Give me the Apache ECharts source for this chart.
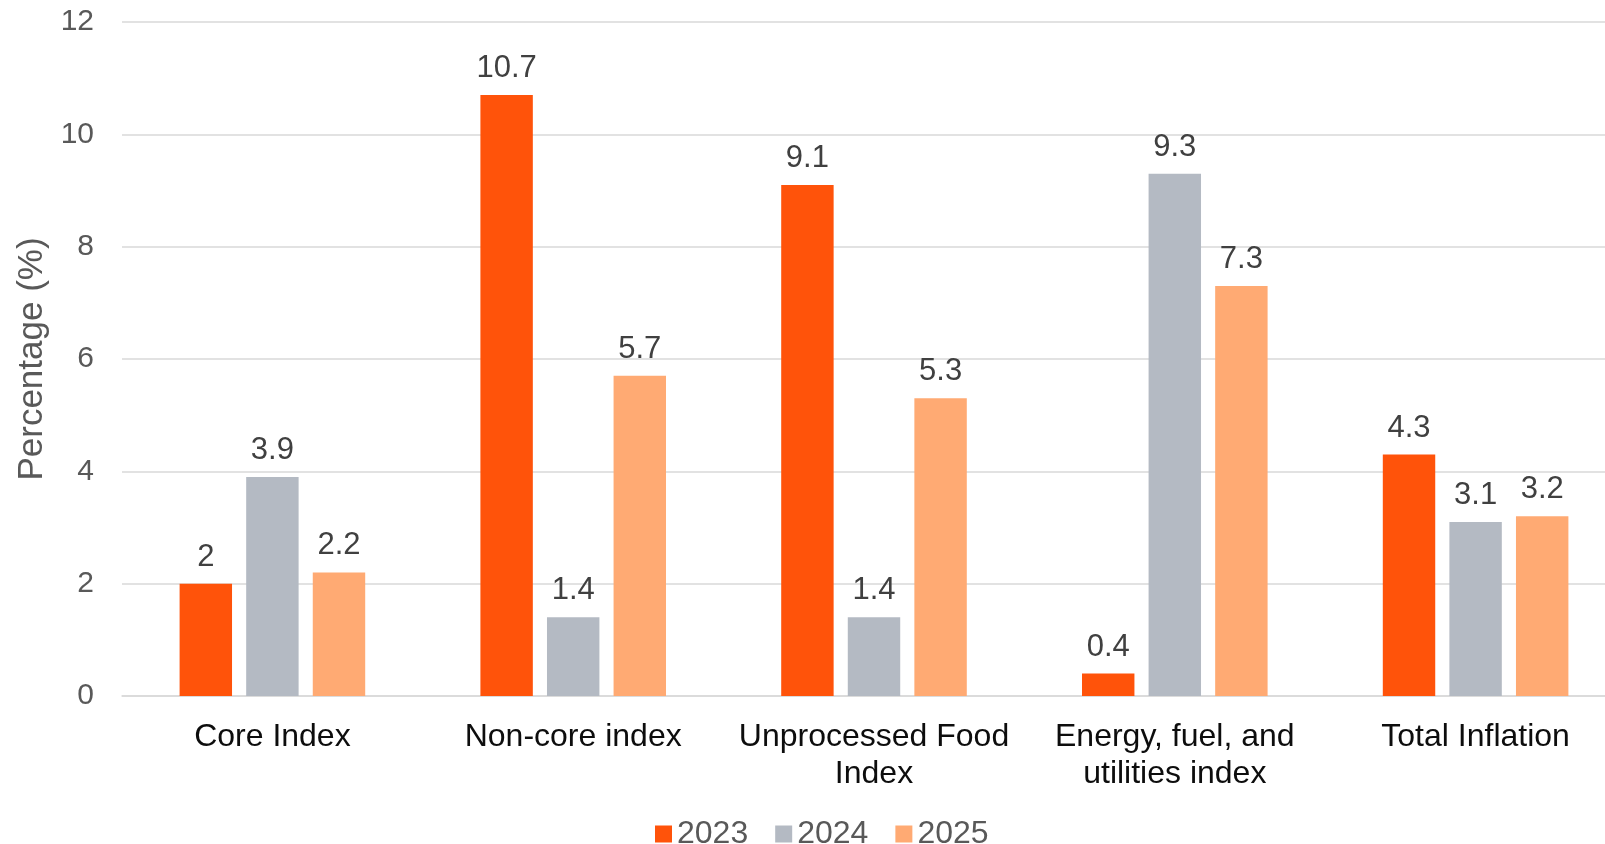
<!DOCTYPE html>
<html>
<head>
<meta charset="utf-8">
<script src="https://cdn.jsdelivr.net/npm/echarts@6/dist/echarts.min.js"></script>
<style>
html,body{margin:0;padding:0;background:#fff;overflow:hidden;width:1605px;height:844px;}
#chart{width:1626px;height:844px;}
</style>
</head>
<body>
<div id="chart"></div>
<script>
const categories = ['Core Index', 'Non-core index', 'Unprocessed Food\nIndex', 'Energy, fuel, and\nutilities index', 'Total Inflation'];
const seriesNames = ['2023', '2024', '2025'];
const values2023 = [2, 10.7, 9.1, 0.4, 4.3];
const values2024 = [3.9, 1.4, 1.4, 9.3, 3.1];
const values2025 = [2.2, 5.7, 5.3, 7.3, 3.2];
const yTicks = { min: 0, max: 12, interval: 2 };

const colors = ['#FF530A', '#B4BAC3', '#FFAA73'];
const FONT = 'Liberation Sans, Arial, sans-serif';
const allValues = [values2023, values2024, values2025];

const chart = echarts.init(document.getElementById('chart'), null, { renderer: 'canvas' });
chart.setOption({
  animation: false,
  backgroundColor: '#ffffff',
  textStyle: { fontFamily: FONT },
  grid: { left: 122, right: 0, top: 22, bottom: 148, containLabel: false, outerBoundsMode: 'none' },
  legend: {
    data: seriesNames,
    left: 655, top: 818,
    padding: 0,
    itemWidth: 17, itemHeight: 17, itemGap: 27,
    icon: 'rect',
    textStyle: { fontFamily: FONT, fontSize: 32, color: '#595959' }
  },
  xAxis: {
    type: 'category',
    data: categories,
    axisLine: { show: true, lineStyle: { color: '#D9D9D9', width: 1.5 } },
    axisTick: { show: false },
    axisLabel: { fontFamily: FONT, fontSize: 32, color: '#0D0D0D', margin: 23, lineHeight: 37, interval: 0 }
  },
  yAxis: {
    type: 'value',
    min: yTicks.min, max: yTicks.max, interval: yTicks.interval,
    name: 'Percentage (%)',
    nameLocation: 'middle',
    nameGap: 70,
    nameRotate: 90,
    nameTextStyle: { fontFamily: FONT, fontSize: 35, color: '#595959' },
    axisLine: { show: false },
    axisTick: { show: false },
    axisLabel: { fontFamily: FONT, fontSize: 30, color: '#595959', margin: 28 },
    splitLine: { lineStyle: { color: '#D9D9D9', width: 1.5 } }
  },
  series: seriesNames.map((name, i) => ({
    name: name,
    type: 'bar',
    data: allValues[i],
    barGap: '27%',
    barCategoryGap: '38.3%',
    itemStyle: { color: colors[i] },
    label: {
      show: true, position: 'top', distance: 11,
      fontFamily: FONT, fontSize: 31, color: '#404040'
    }
  }))
});
</script>
</body>
</html>
